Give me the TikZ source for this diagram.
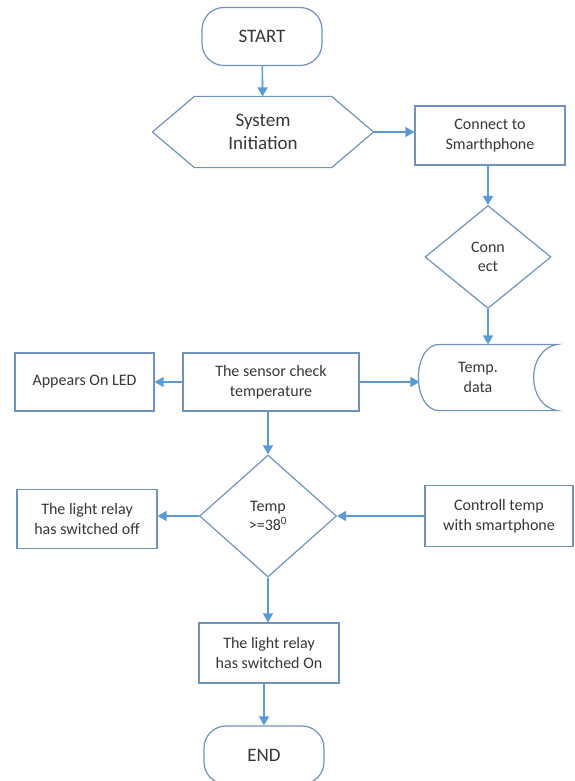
\documentclass[tikz,border=0pt]{standalone}
\usepackage{fontspec}
\setmainfont{Carlito}
\usetikzlibrary{arrows.meta,shapes.geometric}
\definecolor{edgeblue}{RGB}{112,146,190}
\definecolor{arrowblue}{RGB}{91,155,213}
\definecolor{txtgray}{RGB}{55,55,55}

\begin{document}
\begin{tikzpicture}[x=1pt,y=-1pt,
  box/.style={draw=edgeblue,line width=1.2pt,fill=white,text=txtgray,align=center,inner sep=0pt,font=\fontsize{16}{19.5}\selectfont},
  terminal/.style={box,rounded corners=22pt,minimum width=120pt,minimum height=58pt,font=\fontsize{19}{23}\selectfont},
  decision/.style={box,diamond},
  flow/.style={draw=arrowblue,line width=1.6pt,-{Triangle[length=9pt,width=10pt]}}]
\useasboundingbox (0,0) rectangle (575,781);

% Top part
\node[terminal] (start) at (262,36.5) {START};
\node[box,draw=none,fill=none,minimum width=220pt,minimum height=70pt,font=\fontsize{19}{23}\selectfont] (init) at (263,132) {System\\Initiation};
\draw[edgeblue,line width=1.2pt] (init.west) -- ([xshift=42pt]init.north west) -- ([xshift=-42pt]init.north east) -- (init.east) -- ([xshift=-42pt]init.south east) -- ([xshift=42pt]init.south west) -- cycle;
\node[box,minimum width=150pt,minimum height=59pt] (connect) at (490,135.5) {Connect to\\Smarthphone};
\node[decision,minimum width=126pt,minimum height=103pt] (conn) at (488,257) {Conn\\ect};

% Temp. data (stored data shape)
\node[box,draw=none,fill=none,minimum width=116pt,minimum height=65pt] (data) at (478,377.5) {Temp.\\data};
\draw[edgeblue,line width=1.2pt] ([xshift=20pt]data.north west) -- ([xshift=21pt]data.north east)
  .. controls ([xshift=-11pt,yshift=-5pt]data.north east) and ([xshift=-11pt,yshift=5pt]data.south east) .. ([xshift=21pt]data.south east)
  -- ([xshift=20pt]data.south west)
  .. controls ([xshift=-8pt]data.south west) and ([xshift=-8pt]data.north west) .. cycle;

% Middle row
\node[box,minimum width=176pt,minimum height=58pt] (sensor) at (271,382) {The sensor check\\temperature};
\node[box,minimum width=139pt,minimum height=58pt] (led) at (84.5,382) {Appears On LED};

% Decision row
\node[decision,minimum width=137pt,minimum height=122pt] (check) at (268,516) {Temp\\>=38\textsuperscript{0}};
\node[box,minimum width=140pt,minimum height=59pt] (off) at (87,519) {The light relay\\has switched off};
\node[box,minimum width=148pt,minimum height=61pt] (control) at (499,516) {Controll temp\\with smartphone};

% Bottom part
\node[box,minimum width=140pt,minimum height=60pt] (on) at (269,653) {The light relay\\has switched On};
\node[terminal] (end) at (264,755) {END};

% Arrows
\draw[flow] (start) -- (init);
\draw[flow] (init.east) -- (init.east -| connect.west);
\draw[flow] (conn.north |- connect.south) -- (conn.north);
\draw[flow] (conn.south) -- (conn.south |- data.north);
\draw[flow] (sensor.east) -- (sensor.east -| data.west);
\draw[flow] (sensor.west) -- (led.east);
\draw[flow] (check.north |- sensor.south) -- (check.north);
\draw[flow] (control.west) -- (check.east);
\draw[flow] (check.west) -- (check.west -| off.east);
\draw[flow] (check.south) -- (check.south |- on.north);
\draw[flow] (end.north |- on.south) -- (end.north);

\end{tikzpicture}
\end{document}
